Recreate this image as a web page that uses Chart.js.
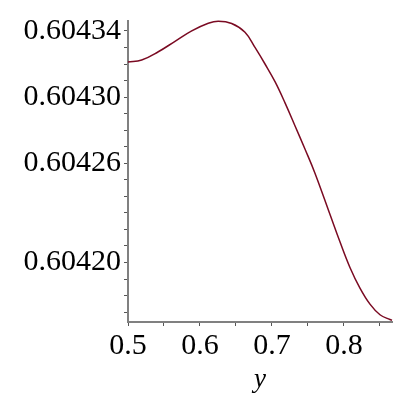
<!DOCTYPE html>
<html>
<head>
<meta charset="utf-8">
<script src="https://cdn.jsdelivr.net/npm/chart.js@4"></script>
<style>
  html, body { margin: 0; padding: 0; background: #fff; }
</style>
</head>
<body>
<canvas id="grafica" width="400" height="400"></canvas>
<script>
const xValues = [0.5, 0.519, 0.5421, 0.5653, 0.5885, 0.6115, 0.6254, 0.644, 0.6625, 0.6764,
    0.6903, 0.7042, 0.7181, 0.7319, 0.7458, 0.7597, 0.7806, 0.7944, 0.8083, 0.8222,
    0.8361, 0.85, 0.8639, 0.8667];
const yValues = [0.6043212, 0.6043224, 0.6043274, 0.6043337, 0.6043400, 0.6043446, 0.6043459,
    0.6043445, 0.6043392, 0.6043300, 0.6043200, 0.6043093, 0.6042965, 0.6042827, 0.6042686,
    0.6042540, 0.6042290, 0.6042125, 0.6041970, 0.6041845, 0.6041748, 0.6041684, 0.6041655,
    0.6041651];
const xTicks = [0.5, 0.55, 0.6, 0.65, 0.7, 0.75, 0.8, 0.85];
const xLabels = ['0.5', '', '0.6', '', '0.7', '', '0.8', ''];
const yTicks = [0.60417, 0.60418, 0.60419, 0.60420, 0.60421, 0.60422, 0.60423, 0.60424,
    0.60425, 0.60426, 0.60427, 0.60428, 0.60429, 0.60430, 0.60431, 0.60432, 0.60433, 0.60434];
const yLabels = ['', '', '', '0.60420', '', '', '', '', '', '0.60426', '', '', '', '0.60430',
    '', '', '', '0.60434'];

const serif = '"Liberation Serif", "Times New Roman", serif';

new Chart(document.getElementById('grafica').getContext('2d'), {
    type: 'line',
    data: {
        datasets: [{
            data: xValues.map((x, i) => ({ x: x, y: yValues[i] })),
            borderColor: '#7a0a22',
            borderWidth: 1.5,
            pointRadius: 0,
            tension: 0.4,
            clip: false,
            fill: false
        }]
    },
    options: {
        responsive: false,
        animation: false,
        layout: { padding: { top: 15, right: 8, left: 0, bottom: 0 } },
        plugins: { legend: { display: false }, tooltip: { enabled: false } },
        scales: {
            x: {
                type: 'linear',
                min: 0.5,
                max: 0.8667,
                afterBuildTicks: s => { s.ticks = xTicks.map(v => ({ value: v })); },
                afterFit: s => { s.height = 78; },
                ticks: {
                    autoSkip: false,
                    maxRotation: 0,
                    padding: 2,
                    color: '#000',
                    font: { family: serif, size: 30 },
                    callback: (v, i) => xLabels[i]
                },
                grid: { drawOnChartArea: false, tickLength: 4, color: '#555', lineWidth: 1 },
                border: { color: '#808080', width: 2 },
                title: {
                    display: true,
                    text: 'y',
                    color: '#000',
                    padding: { top: 0 },
                    font: { family: serif, size: 27, style: 'italic' }
                }
            },
            y: {
                min: 0.604164,
                max: 0.604346,
                afterBuildTicks: s => { s.ticks = yTicks.map(v => ({ value: v })); },
                afterFit: s => { s.width = 128; },
                ticks: {
                    autoSkip: false,
                    padding: 3,
                    color: '#000',
                    font: { family: serif, size: 30 },
                    callback: (v, i) => yLabels[i]
                },
                grid: { drawOnChartArea: false, tickLength: 4, color: '#555', lineWidth: 1 },
                border: { color: '#808080', width: 2 }
            }
        }
    }
});
</script>
</body>
</html>
